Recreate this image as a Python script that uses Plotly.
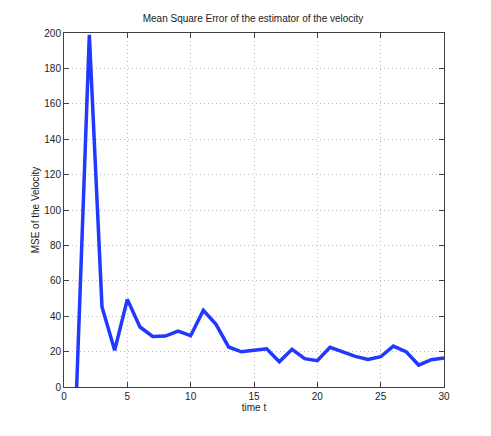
import plotly.graph_objects as go

t = list(range(1, 31))
mse = [0, 199, 45.2, 20.7, 49.5, 33.9, 28.6, 28.8, 31.6, 29.0,
       43.3, 35.4, 22.6, 19.9, 20.7, 21.6, 14.3, 21.3, 16.0, 14.9,
       22.4, 20.1, 17.3, 15.6, 17.1, 23.1, 20.0, 12.4, 15.4, 16.4]
x_ticks = [0, 5, 10, 15, 20, 25, 30]
y_ticks = [0, 20, 40, 60, 80, 100, 120, 140, 160, 180, 200]

fig = go.Figure()
fig.add_trace(go.Scatter(x=t, y=mse, mode="lines",
                         line=dict(color="#2038ff", width=3.5),
                         showlegend=False, cliponaxis=True))

font = dict(family="Liberation Sans, Arial", size=10, color="#222222")
axis_common = dict(
    showline=True, linecolor="#404040", linewidth=1, mirror="ticks",
    ticks="inside", ticklen=5, tickcolor="#404040",
    showgrid=True, gridcolor="#bdbdbd", griddash="1px,3px", gridwidth=1,
    zeroline=False, tickfont=font,
)

fig.update_xaxes(range=[0, 30], tickvals=x_ticks,
                 title=dict(text="time t", font=font, standoff=1),
                 **axis_common)
fig.update_yaxes(range=[0, 200], tickvals=y_ticks,
                 title=dict(text="MSE of the Velocity", font=font, standoff=2),
                 **axis_common)

fig.update_layout(
    width=491, height=436,
    margin=dict(l=56, r=55, t=25, b=57),
    paper_bgcolor="white", plot_bgcolor="white",
    title=dict(text="Mean Square Error of the estimator of the velocity",
               font=font, x=0.499, xanchor="center", y=0.975, yanchor="middle"),
)

fig.write_html("out.html")
